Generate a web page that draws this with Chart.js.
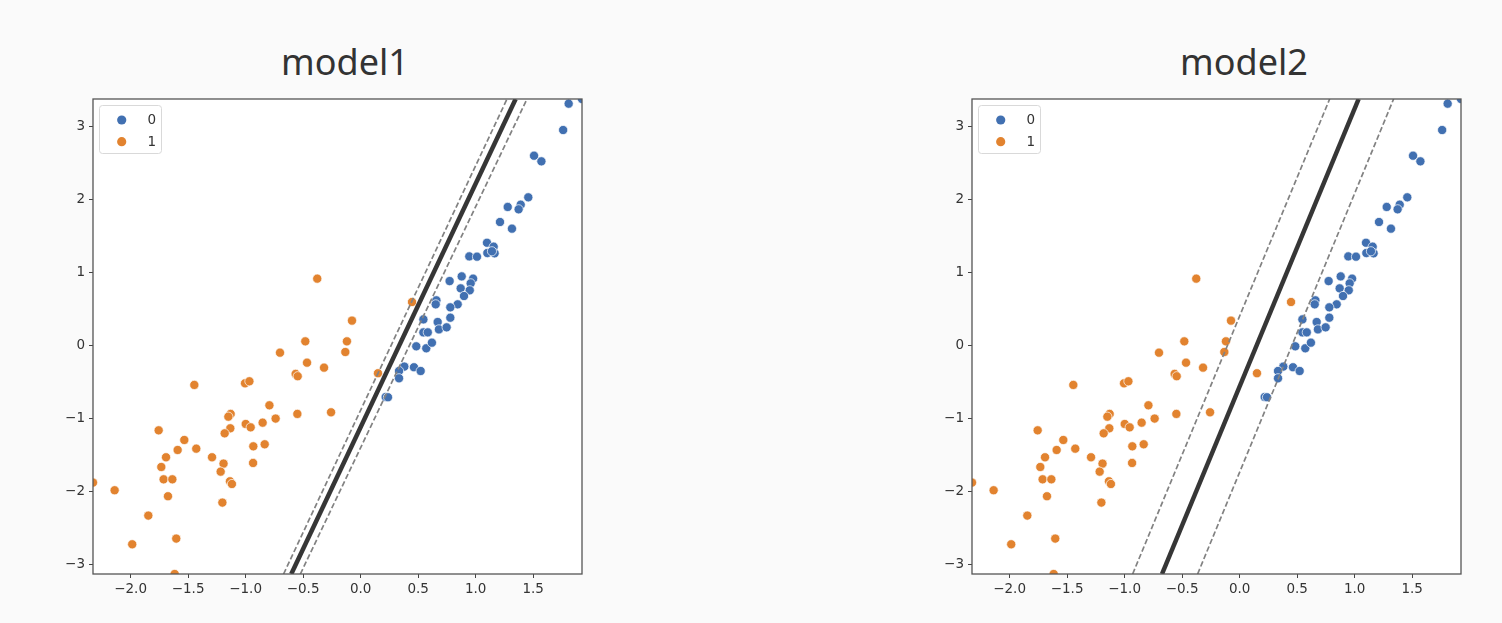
<!DOCTYPE html>
<html>
<head>
<meta charset="utf-8">
<script src="https://cdn.jsdelivr.net/npm/chart.js@4.4.0/dist/chart.umd.min.js"></script>
<style>
  body { margin: 0; background: #fafafa; width: 1502px; height: 623px; overflow: hidden; position: relative; }
  .title { position: absolute; top: 44px; width: 300px; text-align: center; font-family: 'Noto Sans', sans-serif; font-size: 36px; color: #333; line-height: 1; }
  canvas { position: absolute; top: 0; }
</style>
</head>
<body>
<div class="title" style="left: 195px;">model1</div>
<div class="title" style="left: 1094px;">model2</div>
<canvas id="c1" width="600" height="623" style="left: 0px;"></canvas>
<canvas id="c2" width="600" height="623" style="left: 879px;"></canvas>
<script>
// class 0 (blue)
const class0X = [1.925, 1.809, 1.761, 1.508, 1.572, 1.458, 1.279, 1.392, 1.374, 1.212, 1.316, 1.099, 1.157, 1.102, 1.165, 1.142,
    0.945, 1.012, 0.774, 0.879, 0.978, 0.957, 0.870, 0.949, 0.899, 0.659, 0.653, 0.844, 0.780, 0.546, 0.670, 0.780,
    0.681, 0.748, 0.546, 0.584, 0.484, 0.571, 0.620, 0.380, 0.334, 0.464, 0.522, 0.334, 0.218, 0.238];
const class0Y = [3.374, 3.310, 2.949, 2.597, 2.520, 2.027, 1.895, 1.926, 1.863, 1.689, 1.598, 1.405, 1.351, 1.264, 1.260, 1.288,
    1.218, 1.214, 0.880, 0.944, 0.913, 0.849, 0.780, 0.753, 0.675, 0.616, 0.561, 0.561, 0.520, 0.355, 0.319, 0.378,
    0.218, 0.246, 0.177, 0.177, -0.014, -0.041, 0.036, -0.292, -0.352, -0.301, -0.352, -0.452, -0.708, -0.712];

// class 1 (orange)
const class1X = [-0.377, 0.447, -0.075, -0.481, -0.119, -0.133, -0.701, -0.466, -0.318, 0.151, -0.565, -0.547, -1.446, -1.005,
    -0.967, -0.793, -1.130, -1.150, -0.550, -0.257, -0.739, -0.852, -0.999, -0.956, -1.133, -1.182, -1.756, -1.533, -1.591,
    -1.429, -0.933, -0.834, -1.692, -1.292, -1.733, -1.192, -0.935, -1.217, -1.713, -1.637, -1.136, -1.119, -2.327, -2.139,
    -1.675, -1.202, -1.846, -1.986, -1.603, -1.617];
const class1Y = [0.913, 0.593, 0.338, 0.054, 0.054, -0.092, -0.101, -0.238, -0.306, -0.383, -0.392, -0.424, -0.543, -0.521,
    -0.493, -0.822, -0.940, -0.978, -0.940, -0.918, -1.004, -1.060, -1.078, -1.124, -1.137, -1.206, -1.165, -1.297, -1.434,
    -1.416, -1.384, -1.356, -1.534, -1.534, -1.667, -1.621, -1.612, -1.731, -1.836, -1.836, -1.863, -1.900, -1.881, -1.986,
    -2.068, -2.155, -2.333, -2.726, -2.648, -3.133];

// decision boundary and margins, endpoints at the bottom and top of the axes
const model1Boundary = [[-0.603, -3.133], [1.348, 3.374]];
const model1MarginLo = [[-0.670, -3.133], [1.273, 3.374]];
const model1MarginHi = [[-0.524, -3.133], [1.447, 3.374]];
const model2Boundary = [[-0.675, -3.133], [1.035, 3.374]];
const model2MarginLo = [[-0.930, -3.133], [0.783, 3.374]];
const model2MarginHi = [[-0.365, -3.133], [1.339, 3.374]];

const xMin = -2.327, xMax = 1.925, yMin = -3.133, yMax = 3.374;
const xTickStep = 0.5, yTickStep = 1;

const blue = '#4170b1';
const orange = '#e2832f';
const tickFont = { family: 'DejaVu Sans', size: 13.5 };

const minus = s => String(s).replace('-', '\u2212');
const toPoints = (xs, ys) => xs.map((x, i) => ({ x: x, y: ys[i] }));
const toLine = pts => pts.map(p => ({ x: p[0], y: p[1] }));

const frame = {
    id: 'frame',
    afterDatasetsDraw(chart) {
        const a = chart.chartArea, ctx = chart.ctx;
        ctx.save();
        ctx.strokeStyle = '#555';
        ctx.lineWidth = 1.3;
        ctx.strokeRect(a.left, a.top, a.right - a.left, a.bottom - a.top);
        ctx.restore();
    }
};

const boxLegend = {
    id: 'boxLegend',
    afterDraw(chart) {
        const a = chart.chartArea, ctx = chart.ctx;
        const items = chart.data.datasets.filter(d => d.inLegend);
        const x = a.left + 6, y = a.top + 6, w = 62, h = 48;
        ctx.save();
        ctx.beginPath();
        ctx.roundRect(x + 0.5, y + 0.5, w, h, 3);
        ctx.fillStyle = 'rgba(255,255,255,0.8)';
        ctx.fill();
        ctx.strokeStyle = '#d9d9d9';
        ctx.lineWidth = 1;
        ctx.stroke();
        ctx.font = '13.5px "DejaVu Sans"';
        ctx.textAlign = 'right';
        ctx.textBaseline = 'middle';
        items.forEach((d, i) => {
            const cy = a.top + 21 + i * 21.7;
            ctx.beginPath();
            ctx.arc(a.left + 28.7, cy, 4.6, 0, Math.PI * 2);
            ctx.fillStyle = d.backgroundColor;
            ctx.fill();
            ctx.fillStyle = '#333';
            ctx.fillText(d.label, a.left + 63, cy + 0.5);
        });
        ctx.restore();
    }
};

function lineSet(pts, color, width, dash) {
    return {
        type: 'line',
        data: toLine(pts),
        borderColor: color,
        borderWidth: width,
        borderDash: dash,
        pointRadius: 0,
        fill: false,
        showLine: true,
        order: 0
    };
}

function makeChart(id, boundary, lo, hi) {
    return new Chart(document.getElementById(id), {
        type: 'scatter',
        data: {
            datasets: [
                lineSet(lo, '#828282', 1.7, [5.5, 2.6]),
                lineSet(hi, '#828282', 1.7, [5.5, 2.6]),
                lineSet(boundary, '#363636', 4.5, []),
                {
                    label: '0', inLegend: true,
                    data: toPoints(class0X, class0Y),
                    backgroundColor: blue, borderColor: '#ffffff', borderWidth: 0.7,
                    pointRadius: 4.6, order: 2
                },
                {
                    label: '1', inLegend: true,
                    data: toPoints(class1X, class1Y),
                    backgroundColor: orange, borderColor: '#ffffff', borderWidth: 0.7,
                    pointRadius: 4.6, order: 1
                }
            ]
        },
        options: {
            responsive: false,
            animation: false,
            devicePixelRatio: 1,
            layout: { padding: { left: 0, top: 99, right: 18, bottom: 0 } },
            plugins: {
                legend: { display: false },
                tooltip: { enabled: false }
            },
            scales: {
                x: {
                    type: 'linear',
                    min: xMin, max: xMax,
                    afterFit: s => { s.height = 49; },
                    border: { display: false },
                    grid: { drawOnChartArea: false, drawTicks: true, tickLength: 4, color: '#444' },
                    ticks: {
                        stepSize: xTickStep, includeBounds: false,
                        color: '#333', font: tickFont, padding: 3, maxRotation: 0,
                        callback: v => minus(v.toFixed(1))
                    }
                },
                y: {
                    type: 'linear',
                    min: yMin, max: yMax,
                    afterFit: s => { s.width = 93; },
                    border: { display: false },
                    grid: { drawOnChartArea: false, drawTicks: true, tickLength: 4, color: '#444' },
                    ticks: {
                        stepSize: yTickStep, includeBounds: false,
                        color: '#333', font: tickFont, padding: 4,
                        callback: v => minus(v)
                    }
                }
            }
        },
        plugins: [frame, boxLegend, {
            id: 'white',
            beforeDraw(chart) {
                const a = chart.chartArea, ctx = chart.ctx;
                ctx.save();
                ctx.fillStyle = '#ffffff';
                ctx.fillRect(a.left, a.top, a.right - a.left, a.bottom - a.top);
                ctx.restore();
            }
        }]
    });
}

makeChart('c1', model1Boundary, model1MarginLo, model1MarginHi);
makeChart('c2', model2Boundary, model2MarginLo, model2MarginHi);
</script>
</body>
</html>
